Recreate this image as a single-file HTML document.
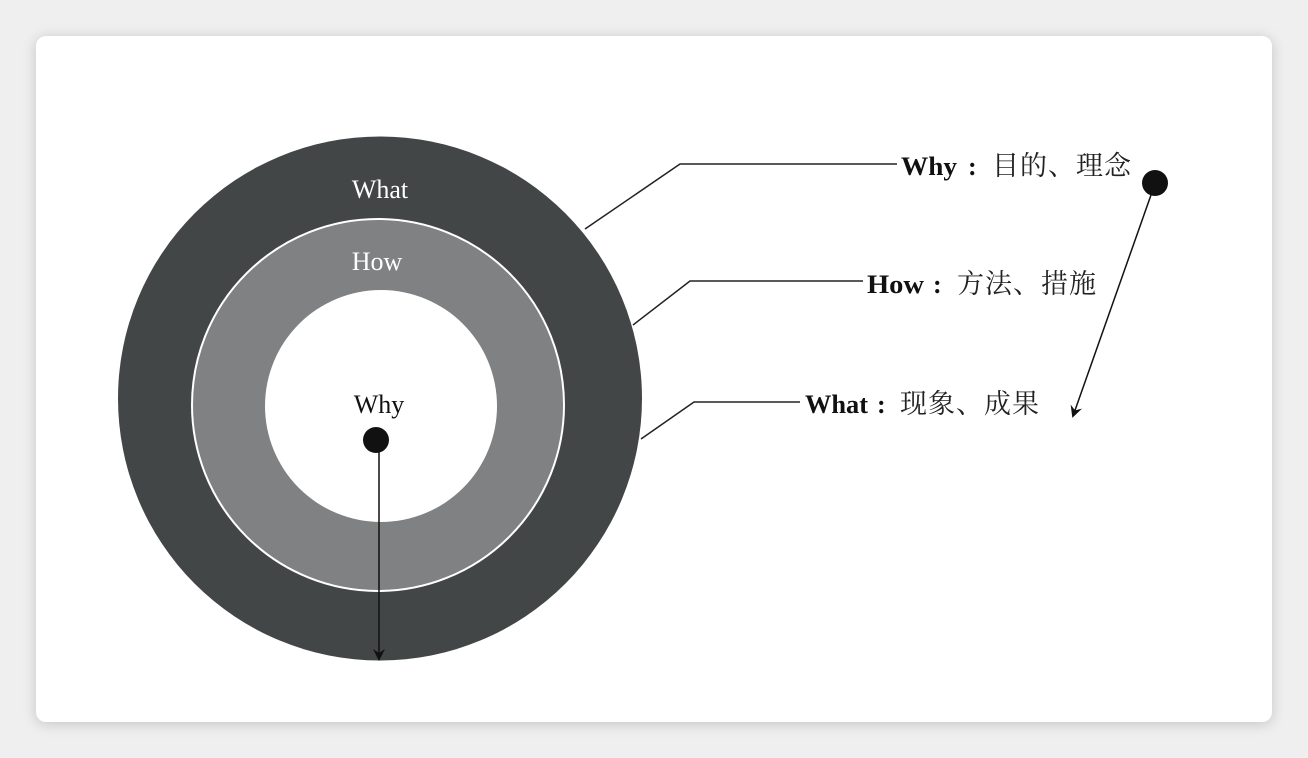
<!DOCTYPE html>
<html><head><meta charset="utf-8"><style>
html,body{margin:0;padding:0;background:#efefef;width:1308px;height:758px;overflow:hidden}
.card{position:absolute;left:36px;top:36px;width:1236px;height:686px;background:#fff;border-radius:10px;box-shadow:0 2px 14px rgba(0,0,0,0.18)}
svg{position:absolute;left:0;top:0}
text{font-family:"Liberation Serif","Noto Serif CJK SC",serif}
.c{font-family:"Noto Serif CJK SC",serif;font-size:27px;letter-spacing:1px;fill:#222}
.l{font-size:26px;font-weight:bold;fill:#111}
</style></head><body>
<div class="card"></div>
<svg width="1308" height="758" viewBox="0 0 1308 758">
<defs><marker id="a" markerWidth="12" markerHeight="14" refX="10" refY="7" orient="auto" markerUnits="userSpaceOnUse"><path d="M0,1 L12,7 L0,13 L4,7 Z" fill="#111"/></marker></defs>
<circle cx="380" cy="398.5" r="262" fill="#434647"/>
<circle cx="378" cy="405" r="186" fill="#7f8182" stroke="#fff" stroke-width="2"/>
<circle cx="381" cy="406" r="116" fill="#fff"/>
<text x="380" y="198" font-size="26" fill="#fff" text-anchor="middle">What</text>
<text x="377" y="270" font-size="26" fill="#fff" text-anchor="middle">How</text>
<text x="379" y="413" font-size="26" fill="#111" text-anchor="middle">Why</text>
<circle cx="376" cy="440" r="13" fill="#111"/>
<line x1="379" y1="450" x2="379" y2="659" stroke="#111" stroke-width="1.5" marker-end="url(#a)"/>
<polyline points="585,229 680,164 897,164" fill="none" stroke="#222" stroke-width="1.5"/>
<polyline points="633,325 690,281 863,281" fill="none" stroke="#222" stroke-width="1.5"/>
<polyline points="641,439 694,402 800,402" fill="none" stroke="#222" stroke-width="1.5"/>
<text x="901" y="175" class="l" textLength="56" lengthAdjust="spacingAndGlyphs">Why</text><text x="968" y="175" class="l">:</text>
<text x="992" y="175" class="c">目的、理念</text>
<text x="867" y="293" class="l" textLength="57" lengthAdjust="spacingAndGlyphs">How</text><text x="933" y="293" class="l">:</text>
<text x="957" y="293" class="c">方法、措施</text>
<text x="805" y="413" class="l" textLength="63" lengthAdjust="spacingAndGlyphs">What</text><text x="877" y="413" class="l">:</text>
<text x="900" y="413" class="c">现象、成果</text>
<circle cx="1155" cy="183" r="13" fill="#111"/>
<line x1="1151" y1="195" x2="1073" y2="416" stroke="#111" stroke-width="1.5" marker-end="url(#a)"/>
</svg>
</body></html>
